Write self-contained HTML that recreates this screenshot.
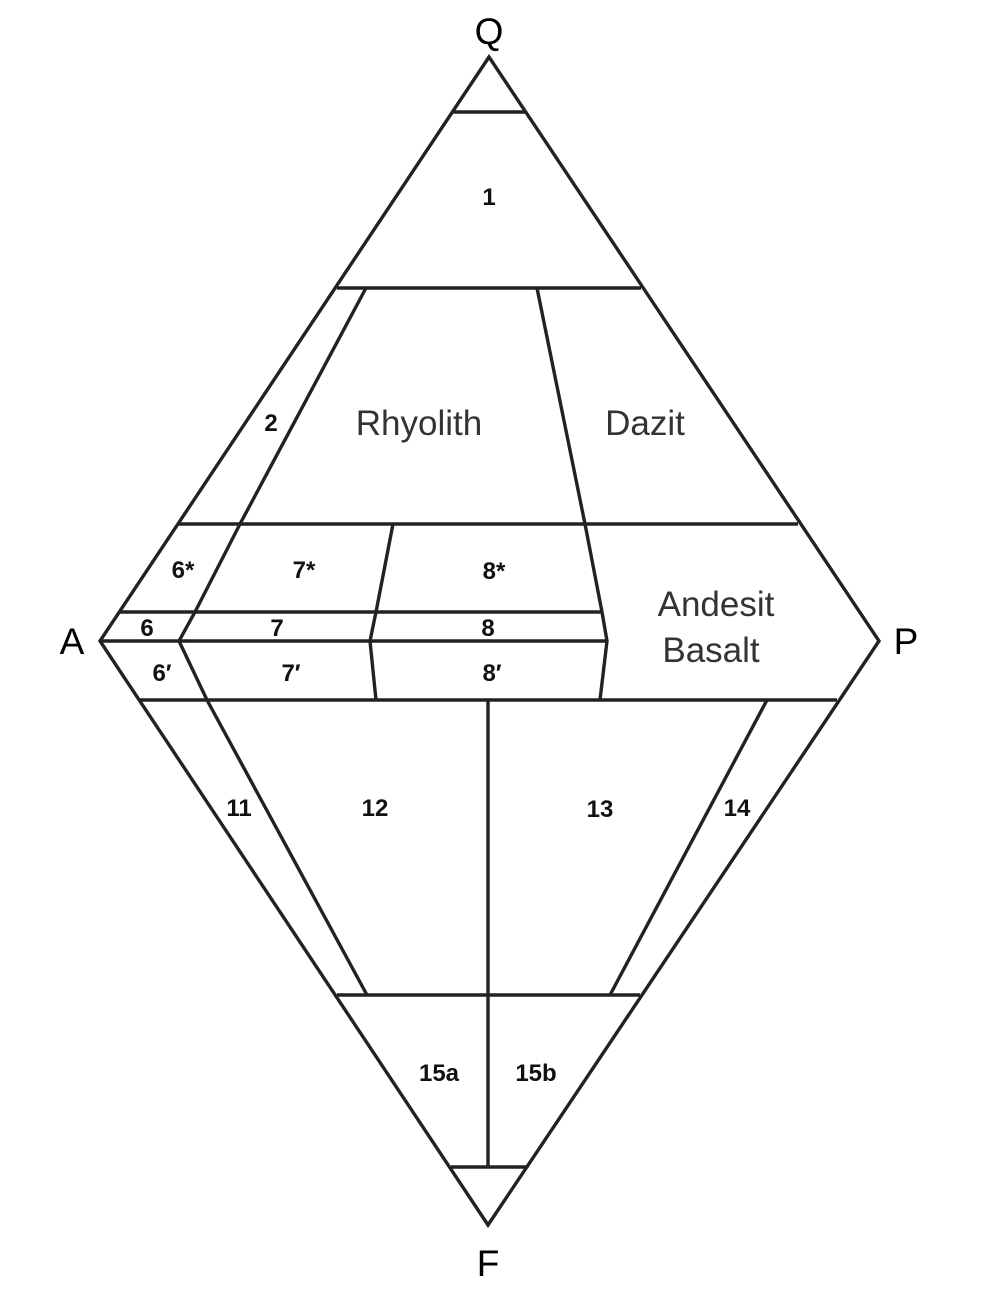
<!DOCTYPE html>
<html><head><meta charset="utf-8"><style>
html,body{margin:0;padding:0;background:#fff;}
svg{display:block;}
.n{font-family:"Liberation Sans",sans-serif;font-size:24px;font-weight:bold;fill:#111;text-anchor:middle;}
.b{font-family:"Liberation Sans",sans-serif;font-size:35px;fill:#333;text-anchor:middle;}
.v{font-family:"Liberation Sans",sans-serif;font-size:37px;fill:#000;text-anchor:middle;}
</style></head><body>
<svg width="1000" height="1295" viewBox="0 0 1000 1295" xmlns="http://www.w3.org/2000/svg">
<g stroke="#222" stroke-width="3.4" fill="none" stroke-linejoin="miter">
<polygon points="489,57 100,641 488,1225 879,641"/>
<line x1="452" y1="112" x2="526" y2="112"/>
<line x1="337" y1="288" x2="641" y2="288"/>
<polyline points="366,288 240,524 195,612 179,641 207,700 367,995"/>
<polyline points="537,288 585,524 602,612 607,641 600,700"/>
<polyline points="393,524 376,612 370,641 376,700"/>
<line x1="178" y1="524" x2="798" y2="524"/>
<line x1="119" y1="612" x2="602" y2="612"/>
<line x1="100" y1="641" x2="607" y2="641"/>
<line x1="139" y1="700" x2="837" y2="700"/>
<line x1="488" y1="700" x2="488" y2="1167"/>
<line x1="337" y1="995" x2="640" y2="995"/>
<line x1="767" y1="700" x2="610" y2="995"/>
<line x1="451" y1="1167" x2="526" y2="1167"/>
</g>
<text class="v" x="489" y="44">Q</text>
<text class="v" x="72" y="654">A</text>
<text class="v" x="906" y="654">P</text>
<text class="v" x="488" y="1276">F</text>
<text class="n" x="489" y="205">1</text>
<text class="n" x="271" y="431">2</text>
<text class="b" x="419" y="435">Rhyolith</text>
<text class="b" x="645" y="435">Dazit</text>
<text class="b" x="716" y="616">Andesit</text>
<text class="b" x="711" y="662">Basalt</text>
<text class="n" x="183" y="578">6*</text>
<text class="n" x="304" y="578">7*</text>
<text class="n" x="494" y="579">8*</text>
<text class="n" x="147" y="636">6</text>
<text class="n" x="277" y="636">7</text>
<text class="n" x="488" y="636">8</text>
<text class="n" x="162" y="681">6′</text>
<text class="n" x="291" y="681">7′</text>
<text class="n" x="492" y="681">8′</text>
<text class="n" x="239" y="816">11</text>
<text class="n" x="375" y="816">12</text>
<text class="n" x="600" y="817">13</text>
<text class="n" x="737" y="816">14</text>
<text class="n" x="439" y="1081">15a</text>
<text class="n" x="536" y="1081">15b</text>
</svg>
</body></html>
